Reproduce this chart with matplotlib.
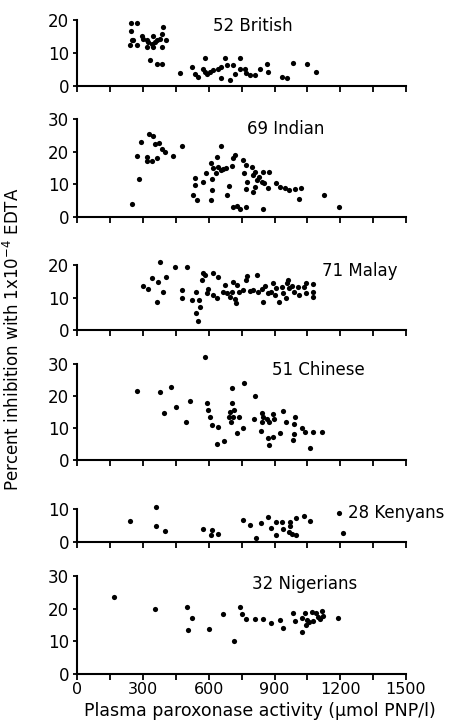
import matplotlib
matplotlib.use('Agg')
import matplotlib.pyplot as plt
import numpy as np

# ---- data (x: umol PNP/l, y: percent inhibition) ----
british_x = [245, 271, 245, 248, 240, 271, 255, 293, 301, 316, 324, 316, 339, 346, 354, 362,
             346, 377, 385, 392, 404, 385, 331, 362, 388,
             468, 522, 537, 552, 575, 583, 583, 590, 605, 620, 643, 658, 658, 673, 681, 696,
             711, 719, 742, 742, 765, 772, 788, 810, 833, 864, 868, 932, 955, 983, 1046, 1089]
british_y = [19, 19, 16.6, 13.8, 12.5, 12.5, 14, 15, 14.3, 13.8, 13.3, 11.8, 12.8, 15, 13.3, 13.8,
             11.8, 14.3, 15.8, 17.8, 14, 11.8, 7.8, 6.8, 6.6,
             4, 5.8, 3.6, 2.6, 5.3, 8.6, 4.3, 3.6, 4.3, 4.8, 5.3, 5.8, 2.3, 8.6, 6.3, 1.8,
             6.3, 3.6, 8.6, 5.3, 5.3, 3.8, 3.3, 3.3, 5.3, 6.8, 4.3, 2.6, 2.3, 7.1, 6.6, 4.1]

indian_x = [248, 274, 281, 290, 316, 316, 327, 346, 343, 354, 362, 374, 385, 400, 435, 478,
            526, 537, 537, 545, 575, 587, 608, 610, 613, 616, 620, 632, 638, 643, 654, 658,
            666, 678, 690, 685, 704, 709, 711, 720, 728, 742, 757, 760, 769, 772, 772, 775,
            797, 800, 803, 810, 810, 821, 830, 841, 846, 852, 846, 868, 876, 906, 925, 949,
            964, 995, 1011, 1020, 1127, 1195]
indian_y = [3.9, 18.7, 11.7, 23.1, 17, 18.5, 25.4, 24.9, 17, 22.3, 18.2, 22.6, 20.8, 20, 18.8, 21.6,
            6.7, 12, 9.8, 5.1, 10.8, 13.6, 16.4, 5.3, 11.5, 8.2, 14.9, 13.6, 18.5, 15.4, 14.4, 21.8,
            14.6, 14.9, 9.5, 6.7, 15.7, 3.1, 18, 19, 3.3, 2.3, 17.5, 13.6, 15.9, 3.1, 8.7, 10.8,
            15.4, 7.7, 12.8, 13.9, 9.2, 11.3, 12.3, 10.8, 13.7, 10.3, 2.4, 9, 13.9, 10.5, 9.2, 9,
            8.2, 8.6, 5.4, 8.9, 6.6, 3]

malay_x = [298, 324, 342, 362, 369, 377, 392, 403, 446, 476, 476, 499, 522, 541, 541, 551,
           557, 560, 567, 575, 582, 590, 597, 620, 620, 636, 643, 666, 673, 681, 696, 704,
           711, 719, 723, 730, 739, 757, 769, 775, 788, 818, 800, 826, 841, 848, 856, 871,
           882, 894, 902, 909, 921, 935, 940, 951, 955, 961, 966, 981, 990, 1005, 1013, 1036,
           1043, 1044, 1075, 1075, 1075]
malay_y = [13.5, 12.5, 16.1, 8.7, 14.9, 21, 11.8, 16.4, 19.5, 12.3, 9.7, 19.5, 9.2, 11.8, 5.3, 2.9,
           9.2, 7.2, 15.4, 17.4, 16.9, 11.5, 12.5, 17.4, 10.8, 9.7, 16.4, 11.8, 13.8, 11.3, 10.3, 11.8,
           14.9, 9.4, 8.2, 13.8, 11.8, 12.3, 15.4, 16.7, 12.1, 16.9, 12.3, 11.8, 12.5, 8.7, 13.5, 11.3,
           11.8, 14.4, 10.8, 12.8, 8.7, 13.3, 11.3, 9.7, 14.4, 15.4, 12.8, 13.5, 11.8, 13.3, 10.8, 13.3,
           14.4, 11.5, 14.2, 11.8, 10.3]

chinese_x = [271, 377, 394, 426, 450, 496, 514, 590, 598, 604, 616, 643, 639, 671, 693, 696,
             701, 704, 704, 715, 711, 730, 739, 757, 760, 810, 806, 837, 841, 841, 849, 864,
             871, 876, 876, 894, 897, 894, 925, 940, 952, 989, 985, 993, 989, 1024, 1039, 1062,
             1074, 1115, 584]
chinese_y = [21.6, 21.1, 14.8, 22.9, 16.7, 12, 18.5, 17.9, 15.6, 13.3, 10.9, 10.4, 4.9, 6, 13.3, 15.1,
             12, 22.4, 17.9, 15.6, 13.5, 8.5, 13.3, 9.9, 24.2, 20, 12.7, 9.1, 14.8, 12, 13.3, 12.7,
             6.8, 4.7, 12, 14.4, 12.7, 7.1, 8.5, 15.3, 12, 11.3, 6.3, 13.3, 8.1, 10.1, 8.9, 3.6,
             8.9, 8.9, 32.3]

kenyan_x = [240, 359, 359, 398, 575, 608, 616, 643, 754, 788, 814, 838, 868, 882, 906, 909,
            935, 938, 970, 970, 967, 978, 997, 1000, 1034, 1062, 1196, 1211]
kenyan_y = [6.5, 10.7, 4.8, 3.2, 3.9, 2.2, 3.7, 2.4, 6.7, 5.2, 1.1, 5.9, 7.6, 4.2, 6, 2,
            6, 3.9, 6, 4.7, 3, 2.4, 2.2, 7.4, 7.9, 6.4, 8.7, 2.8]

nigerian_x = [169, 354, 499, 506, 523, 599, 663, 716, 742, 751, 770, 811, 849, 885, 925, 940,
              983, 993, 1024, 1025, 1039, 1043, 1046, 1058, 1069, 1077, 1089, 1100, 1107, 1115,
              1122, 1188]
nigerian_y = [23.7, 19.9, 20.4, 13.5, 17, 13.7, 18.3, 10.1, 20.4, 18.3, 16.8, 16.8, 16.8, 15.7, 16.5, 14,
              18.6, 16.2, 17.2, 13, 18.6, 15, 16.5, 16, 19.1, 16.2, 18.6, 17.6, 16.8, 19.3,
              17.9, 17]

groups = ['52 British', '69 Indian', '71 Malay', '51 Chinese', '28 Kenyans', '32 Nigerians']
xs = [british_x, indian_x, malay_x, chinese_x, kenyan_x, nigerian_x]
ys = [british_y, indian_y, malay_y, chinese_y, kenyan_y, nigerian_y]
ytops = [20, 30, 20, 30, 10, 30]
label_pos = [(620, 18.2), (773, 26.8), (1115, 18.2), (887, 28.1), (1237, 8.7), (796, 27.5)]

xticks = np.arange(0, 1501, 150)
xticklabels = [str(t) if t % 300 == 0 else '' for t in xticks]

# panel extents in pixels (top, bottom) measured from the top of the picture
W, H = 457, 722
panels_px = [(20, 86), (119, 217), (265, 330), (364, 460), (509, 542), (576, 674)]
left_px, right_px = 77.3, 406

fig = plt.figure(figsize=(W / 100, H / 100), dpi=100)

for i, (top, bot) in enumerate(panels_px):
    ax = fig.add_axes([left_px / W, 1 - bot / H, (right_px - left_px) / W, (bot - top) / H])
    ax.scatter(xs[i], ys[i], s=14, color='black', linewidths=0, clip_on=False, zorder=3)
    ax.set_xlim(0, 1500)
    ax.set_ylim(0, ytops[i])
    ax.set_yticks(np.arange(0, ytops[i] + 1, 10))
    ax.set_xticks(xticks)
    if i == len(panels_px) - 1:
        ax.set_xticklabels(xticklabels, fontsize=11.5)
    else:
        ax.set_xticklabels([])
    ax.tick_params(axis='y', labelsize=12, length=3, width=1.3, pad=3)
    ax.tick_params(axis='x', length=4, width=1.3, pad=2)
    for side in ['top', 'right']:
        ax.spines[side].set_visible(False)
    for side in ['left', 'bottom']:
        ax.spines[side].set_linewidth(1.5)
    ax.patch.set_alpha(0)
    ax.text(label_pos[i][0], label_pos[i][1], groups[i], fontsize=12, ha='left', va='center')

fig.text(260 / W, 1 - 711 / H, 'Plasma paroxonase activity (\u03bcmol PNP/l)',
         fontsize=12.5, ha='center', va='center')
fig.text(13 / W, 1 - 339 / H, 'Percent inhibition with 1x10$^{-4}$ EDTA',
         fontsize=12, rotation=90, ha='center', va='center')

plt.savefig('out.png', dpi=100)
